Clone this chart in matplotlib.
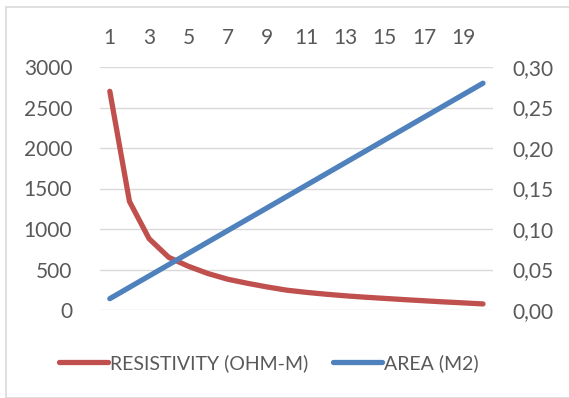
import matplotlib
matplotlib.use("Agg")
import matplotlib.pyplot as plt
from matplotlib.patches import Rectangle
from matplotlib.ticker import FuncFormatter

# data
categories = list(range(1, 21))
resistivity = [2700, 1340, 880, 650, 540, 450, 380, 330, 285, 245,
               218, 195, 175, 158, 143, 128, 114, 100, 88, 75]
area = [0.014, 0.028, 0.042, 0.056, 0.070, 0.084, 0.098, 0.112, 0.126, 0.140,
        0.154, 0.168, 0.182, 0.196, 0.210, 0.224, 0.238, 0.252, 0.266, 0.280]
top_ticks = [1, 3, 5, 7, 9, 11, 13, 15, 17, 19]
left_ticks = [0, 500, 1000, 1500, 2000, 2500, 3000]
right_ticks = [0.0, 0.05, 0.10, 0.15, 0.20, 0.25, 0.30]

W, H = 569, 398
plt.rcParams['font.family'] = ['Lato', 'DejaVu Sans']
txt = '#595959'
fs = 15
lfs = 14

fig = plt.figure(figsize=(W / 100, H / 100), dpi=100)
fig.patches.append(Rectangle((6 / W, 0), 1, 1 - 7 / H, transform=fig.transFigure,
                             fill=False, edgecolor='#d9d9d9', linewidth=1.2))

ax = fig.add_axes([100 / W, 1 - 310 / H, (492.8 - 100) / W, (310 - 67) / H])
ax2 = ax.twinx()

red = '#c0504d'
blue = '#4f81bd'
l1, = ax.plot(categories, resistivity, color=red, lw=3.8, solid_capstyle='round',
              solid_joinstyle='round', label='RESISTIVITY (OHM-M)')
l2, = ax2.plot(categories, area, color=blue, lw=3.8, solid_capstyle='round',
               solid_joinstyle='round', label='AREA (M2)')

ax.set_xlim(0.5, 20.5)
ax.set_ylim(0, 3000)
ax2.set_ylim(0, 0.30)
ax.set_yticks(left_ticks)
ax2.set_yticks(right_ticks)
ax2.yaxis.set_major_formatter(FuncFormatter(lambda v, p: f"{v:.2f}".replace('.', ',')))
ax.set_xticks(top_ticks)
ax.xaxis.tick_top()
ax.grid(axis='y', color='#d9d9d9', lw=1.0)
ax.set_axisbelow(True)
for a in (ax, ax2):
    for s in a.spines.values():
        s.set_visible(False)
ax.tick_params(axis='y', length=0, pad=20, labelsize=fs, labelcolor=txt)
ax2.tick_params(axis='y', length=0, pad=14, labelsize=fs, labelcolor=txt)
ax.tick_params(axis='x', length=0, pad=14, labelsize=fs, labelcolor=txt, top=True, bottom=False)

leg = fig.legend(handles=[l1, l2], loc='center', bbox_to_anchor=(269 / W, 1 - 363 / H),
                 ncol=2, frameon=False, fontsize=lfs, handlelength=2.5,
                 handletextpad=0.1, columnspacing=1.3)
for t in leg.get_texts():
    t.set_color(txt)

fig.savefig('out.png', dpi=100)
